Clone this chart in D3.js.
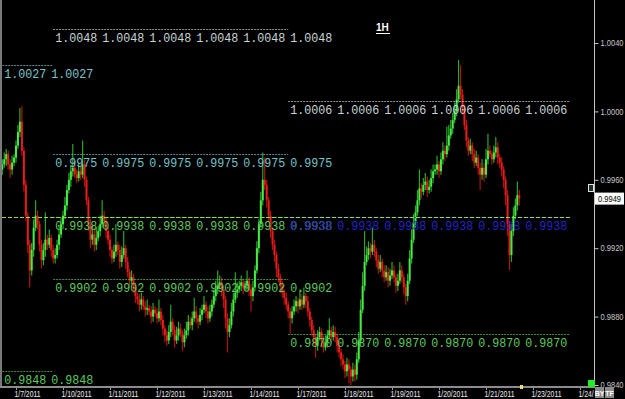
<!DOCTYPE html>
<html>
<head>
	<title>1H</title>
	<meta charset="utf-8">
	<style>body{margin:0;background:#000;overflow:hidden}</style>
</head>
<body>
<svg width="625" height="399"></svg>

<script src="https://d3js.org/d3.v7.min.js"></script>
<script>
// hourly closes in pips (9969 = 0.9969), first bar is 7 hours before 1/7/2011
const firstHour = -7;
const firstOpen = 9966;
const closes = [
	9969, 9972, 9975, 9969, 9966, 9970, 9973, 9980, 9988, 9994,
	9977, 9957, 9939, 9922, 9907, 9919, 9932, 9939, 9934, 9922,
	9913, 9919, 9925, 9922, 9926, 9919, 9914, 9916, 9922, 9928,
	9934, 9939, 9945, 9954, 9960, 9965, 9967, 9963, 9961, 9965,
	9963, 9969, 9960, 9948, 9934, 9925, 9928, 9922, 9926, 9930,
	9934, 9939, 9936, 9930, 9925, 9919, 9914, 9918, 9922, 9919,
	9912, 9916, 9920, 9912, 9906, 9901, 9903, 9897, 9892, 9890,
	9887, 9890, 9886, 9884, 9885, 9883, 9880, 9884, 9882, 9879,
	9883, 9878, 9873, 9869, 9866, 9871, 9877, 9872, 9866, 9869,
	9873, 9870, 9865, 9869, 9872, 9877, 9875, 9879, 9883, 9879,
	9877, 9881, 9884, 9887, 9883, 9879, 9883, 9887, 9892, 9896,
	9898, 9900, 9896, 9890, 9879, 9871, 9875, 9883, 9890, 9894,
	9896, 9898, 9900, 9897, 9898, 9901, 9896, 9892, 9897, 9907,
	9920, 9934, 9948, 9960, 9957, 9948, 9939, 9930, 9922, 9916,
	9908, 9903, 9898, 9894, 9891, 9887, 9883, 9879, 9883, 9886,
	9889, 9886, 9890, 9887, 9892, 9889, 9883, 9878, 9872, 9868,
	9863, 9868, 9871, 9866, 9862, 9865, 9869, 9872, 9868, 9871,
	9868, 9863, 9859, 9855, 9852, 9848, 9852, 9849, 9845, 9849,
	9846, 9855, 9866, 9884, 9898, 9912, 9916, 9920, 9918, 9922,
	9918, 9913, 9908, 9912, 9907, 9903, 9906, 9901, 9904, 9907,
	9903, 9898, 9901, 9907, 9903, 9897, 9892, 9901, 9914, 9925,
	9935, 9941, 9948, 9955, 9953, 9957, 9959, 9954, 9956, 9961,
	9965, 9966, 9969, 9965, 9972, 9977, 9975, 9980, 9986, 9990,
	9995, 10000, 10007, 10015, 10010, 10002, 9992, 9983, 9977, 9980,
	9975, 9970, 9973, 9967, 9963, 9967, 9963, 9972, 9977, 9975,
	9972, 9976, 9979, 9973, 9970, 9966, 9960, 9951, 9934, 9916,
	9930, 9939, 9945, 9951, 9949
];
// wick length above / below the body, pips
const wickHi = [
	3,4,3,2,3,4,2,3,4,8, 9,2,3,2,3,4,5,9,3,2, 3,4,16,3,5,2,3,4,3,5,
	4,3,5,3,4,3,14,4,3,5, 3,14,3,2,2,3,5,4,6,3, 5,9,3,2,2,3,2,4,12,2,
	3,5,10,2,3,2,4,2,3,2, 3,4,2,3,5,2,3,4,2,3, 7,2,3,2,3,4,10,2,3,5,
	4,3,2,4,5,4,3,4,8,3, 2,4,3,5,2,3,4,3,4,5, 9,4,3,2,2,3,4,5,4,12,
	4,3,4,2,3,6,2,3,4,3, 4,3,5,16,13,3,2,3,2,3, 2,3,2,3,2,3,2,2,3,4,
	3,2,6,3,5,2,3,2,2,3, 2,4,3,2,3,4,3,7,2,4, 3,2,3,2,3,2,4,3,2,4,
	3,4,5,6,8,18,5,4,3,10, 3,2,3,4,2,3,4,3,4,5, 3,2,4,5,3,2,2,4,5,6,
	5,4,6,11,3,4,5,3,4,5, 4,3,5,2,4,5,3,11,6,5, 4,5,6,15,12,3,2,3,2,4,
	2,3,4,2,3,5,3,6,10,3, 2,4,6,3,2,3,2,2,3,2, 4,5,4,8,3
];
const wickLo = [
	3,2,4,3,5,3,2,3,2,3, 3,4,3,5,10,3,4,2,3,4, 5,3,4,3,2,4,3,3,2,3,
	2,3,2,3,2,4,3,2,3,2, 3,2,4,3,4,5,3,4,3,2, 3,2,3,4,3,4,3,2,3,3,
	4,3,2,4,3,4,2,3,4,3, 4,3,2,4,3,2,4,3,2,3, 2,3,4,4,3,2,3,3,4,2,
	3,2,5,3,2,3,2,3,2,3, 4,2,3,2,4,3,2,3,2,3, 3,2,4,5,6,12,3,2,3,2,
	3,2,3,4,2,3,4,9,3,2, 2,3,2,3,3,4,3,4,3,4, 5,3,4,3,4,3,4,9,3,2,
	3,4,2,3,2,4,3,4,3,4, 7,3,2,4,3,2,3,2,3,2, 3,4,3,4,3,4,3,8,5,3,
	4,3,2,3,2,3,2,3,4,2, 3,4,3,2,4,3,2,4,3,2, 3,4,3,2,3,4,5,3,2,3,
	2,3,2,3,4,2,3,4,2,3, 3,2,3,4,2,3,4,2,3,2, 3,2,3,2,3,4,3,4,3,2,
	4,3,2,4,9,3,4,2,3,2, 3,2,3,4,3,4,5,6,7,9, 4,3,2,3,4
];

const dayLabels = ['1/7/2011', '1/10/2011', '1/11/2011', '1/12/2011', '1/13/2011', '1/14/2011',
	'1/17/2011', '1/18/2011', '1/19/2011', '1/20/2011', '1/21/2011', '1/23/2011', '1/24/2011'];
const priceTicks = [1.0040, 1.0000, 0.9960, 0.9920, 0.9880, 0.9840];
const lastPrice = 0.9949;
const markLine = 0.9938;

// weekly pivot levels
const weekStart = [-7, 19, 139];
const weekEnd = [19, 139, 283];
const weekLabels = [2, 6, 6];
const levelWeek = [0, 0, 1, 1, 1, 1, 2, 2, 2];
const levelValue = [1.0027, 0.9848, 1.0048, 0.9975, 0.9938, 0.9902, 1.0006, 0.9938, 0.9870];

const levelColors = ['#7cc6ca', '#5ec85e', '#c8d6d6', '#76c2ca', '#5ec85e', '#5ec85e', '#c8d6d6', '#2424c4', '#5ec85e'];

var svg = d3.select('svg');
svg.append('rect').attr('width', 625).attr('height', 399).attr('fill', '#000');

var x = d3.scaleLinear().domain([0, 24]).range([16, 63]);
var y = d3.scaleLinear().domain([0.9840, 1.0040]).range([385, 43]);

var bars = closes.map((c, i) => {
	const o = i ? closes[i - 1] : firstOpen;
	return {
		k: firstHour + i,
		o: o / 1e4, c: c / 1e4,
		h: (Math.max(o, c) + wickHi[i]) / 1e4,
		l: (Math.min(o, c) - wickLo[i]) / 1e4
	};
});

// candles
var candleGroup = svg.append('g');
var candle = candleGroup.selectAll('g').data(bars).enter().append('g');
candle.append('line')
	.attr('x1', d => x(d.k)).attr('x2', d => x(d.k))
	.attr('y1', d => y(d.h)).attr('y2', d => y(d.l))
	.attr('stroke', d => d.c >= d.o ? '#2aa82a' : '#b01212')
	.attr('stroke-width', 1.2);
candle.append('rect')
	.attr('x', d => x(d.k) - 1).attr('width', 2)
	.attr('y', d => y(Math.max(d.o, d.c)))
	.attr('height', d => Math.max(1, y(Math.min(d.o, d.c)) - y(Math.max(d.o, d.c))))
	.attr('fill', d => d.c >= d.o ? '#44ec44' : '#e81c1c');

// pivot level lines and labels
var levelGroup = svg.append('g');
levelValue.forEach((v, j) => {
	const w = levelWeek[j];
	levelGroup.append('line')
		.attr('x1', x(weekStart[w])).attr('x2', x(weekEnd[w]))
		.attr('y1', Math.round(y(v)) + 0.5).attr('y2', Math.round(y(v)) + 0.5)
		.attr('stroke', levelColors[j]).attr('stroke-opacity', 0.7)
		.attr('stroke-dasharray', '2,1');
	for (let n = 0; n < weekLabels[w]; n++) {
		levelGroup.append('text')
			.attr('x', x(weekStart[w] + 24 * n) + 2)
			.attr('y', y(v) + 13)
			.attr('textLength', 42).attr('lengthAdjust', 'spacingAndGlyphs')
			.attr('font-family', 'Liberation Mono').attr('font-size', 13)
			.attr('fill', levelColors[j])
			.text(v.toFixed(4));
	}
});

// dashed marker line
svg.append('line')
	.attr('x1', 2).attr('x2', x(weekEnd[2]))
	.attr('y1', Math.round(y(markLine)) + 0.5).attr('y2', Math.round(y(markLine)) + 0.5)
	.attr('stroke', '#8ee03a').attr('stroke-width', 1.2).attr('stroke-dasharray', '4,2');

// frame
svg.append('line').attr('x1', 1).attr('x2', 1).attr('y1', 0).attr('y2', 387)
	.attr('stroke', '#7a7a7a').attr('stroke-width', 2);
svg.append('line').attr('x1', 594.5).attr('x2', 594.5).attr('y1', 0).attr('y2', 388)
	.attr('stroke', '#c4c4c4');
svg.append('line').attr('x1', 0).attr('x2', 595).attr('y1', 387).attr('y2', 387)
	.attr('stroke', '#8c8c8c').attr('stroke-width', 2);

// price axis
var yAxis = svg.append('g').attr('transform', 'translate(594.5,0)')
	.call(d3.axisRight(y).tickValues(priceTicks).tickSize(4).tickPadding(2).tickFormat(d3.format('.4f')));
yAxis.select('.domain').remove();
yAxis.selectAll('line').attr('stroke', '#c4c4c4');
yAxis.selectAll('text').attr('fill', '#c8c8c8').attr('font-family', 'Liberation Sans').attr('font-size', 8.5)
	.attr('textLength', 23).attr('lengthAdjust', 'spacingAndGlyphs');

// time axis, last label cut at the price axis
svg.append('clipPath').attr('id', 'tclip').append('rect').attr('width', 594).attr('height', 399);
var xAxis = svg.append('g').attr('transform', 'translate(0,388)').attr('clip-path', 'url(#tclip)')
	.call(d3.axisBottom(x).tickValues(dayLabels.map((d, i) => 24 * i)).tickSize(2).tickPadding(1)
		.tickFormat((d, i) => dayLabels[i]));
xAxis.select('.domain').remove();
xAxis.selectAll('line').attr('stroke', '#9a9a9a');
xAxis.selectAll('text').attr('fill', '#ececec').attr('font-family', 'Liberation Sans')
	.attr('font-size', 9).attr('text-anchor', 'start').attr('dx', -2)
	.attr('textLength', (d, i) => dayLabels[i].length > 8 ? 30 : 26).attr('lengthAdjust', 'spacingAndGlyphs');

// last price box
svg.append('rect').attr('x', 595).attr('y', y(lastPrice) - 6).attr('width', 29).attr('height', 12).attr('fill', '#fff');
svg.append('text').attr('x', 598).attr('y', y(lastPrice) + 3.5)
	.attr('font-family', 'Liberation Sans').attr('font-size', 8.5).attr('fill', '#000')
	.attr('textLength', 23).attr('lengthAdjust', 'spacingAndGlyphs').text(lastPrice.toFixed(4));
svg.append('rect').attr('x', 588.5).attr('y', 184.5).attr('width', 5).attr('height', 7)
	.attr('fill', '#203020').attr('stroke', '#e0e0e0');

// markers at the bottom right
svg.append('rect').attr('x', 588).attr('y', 380).attr('width', 7).attr('height', 7).attr('fill', '#22ee22');
svg.append('rect').attr('x', 520).attr('y', 385).attr('width', 3).attr('height', 4).attr('fill', '#f0e070');
['BY', 'TF'].forEach((t, i) => {
	svg.append('rect').attr('x', 595 + 10 * i).attr('y', 387).attr('width', 9).attr('height', 11).attr('fill', '#8a8a8a');
	svg.append('text').attr('x', 599.5 + 10 * i).attr('y', 395.5).attr('text-anchor', 'middle')
		.attr('font-family', 'Liberation Sans').attr('font-weight', 'bold').attr('font-size', 7)
		.attr('fill', '#fff').text(t);
});

// timeframe title
svg.append('text').attr('x', 376).attr('y', 31).attr('font-family', 'Liberation Sans')
	.attr('font-weight', 'bold').attr('font-size', 10).attr('fill', '#fff').text('1H');
svg.append('line').attr('x1', 376).attr('x2', 390).attr('y1', 33.5).attr('y2', 33.5).attr('stroke', '#fff');
</script>
</body>
</html>
